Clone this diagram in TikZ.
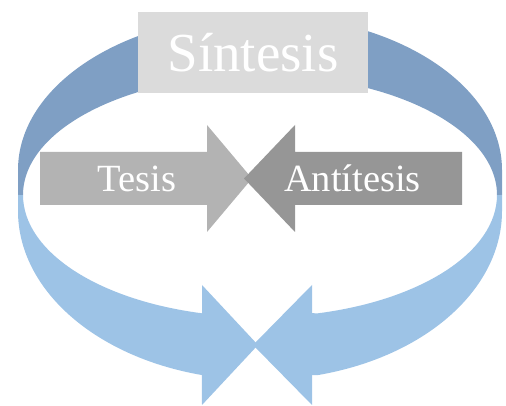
\documentclass[tikz,border=0pt]{standalone}
\usepackage{fontspec}
\setmainfont{Liberation Serif}
\usepackage{tikz}
\usetikzlibrary{calc,positioning}
\definecolor{backband}{RGB}{127,159,196}
\definecolor{frontband}{RGB}{157,195,230}
\definecolor{synbox}{RGB}{219,219,219}
\definecolor{thesis}{RGB}{179,179,179}
\definecolor{antithesis}{RGB}{150,150,150}
\tikzset{back/.style={fill=backband},front/.style={fill=frontband}}
\tikzstyle{lbl}=[text=white, inner sep=0pt, anchor=base, font=\fontsize{38.5}{40}\selectfont]
\tikzstyle{sbox}=[fill=synbox, text=white, inner sep=0pt, minimum width=230pt, minimum height=81pt, font=\fontsize{55}{58}\selectfont]

\begin{document}
\begin{tikzpicture}[x=1pt, y=1pt]
\useasboundingbox (0,0) rectangle (506,406);
\fill[back] (18,211) -- (18,236) arc[start angle=180, end angle=0, x radius=242pt, y radius=155pt] -- (502,211) -- (497,211) arc[start angle=0, end angle=180, x radius=237pt, y radius=120pt] -- cycle;
\fill[front] (18,211) -- (18,195) arc[start angle=180, end angle=256.1, x radius=242pt, y radius=169pt] -- (202,1) -- (258,61) -- (202,121) -- (202,93) -- (203.5,92.5) arc[start angle=256.2, end angle=180, x radius=237pt, y radius=122pt] -- cycle;
\fill[front] (502,211) -- (502,195) arc[start angle=0, end angle=-76.1, x radius=242pt, y radius=169pt] -- (312,31) -- (312,1) -- (253,61) -- (312,121) -- (312,93) -- (316.5,92.5) arc[start angle=-76.2, end angle=0, x radius=237pt, y radius=122pt] -- cycle;
\node[sbox] (S) at (253,353.5) {Síntesis};
\fill[thesis] (40,254) -- (207,254) -- (207,281) -- (252,227.5) -- (207,174) -- (207,201) -- (40,201) -- cycle;
\fill[antithesis] (462,254) -- (295,254) -- (295,281) -- (244,227.5) -- (295,174) -- (295,201) -- (462,201) -- cycle;
\node[lbl] (T) at (137,214) {Tesis};
\node[lbl] (A) at (352.5,214) {Antítesis};
\end{tikzpicture}
\end{document}
